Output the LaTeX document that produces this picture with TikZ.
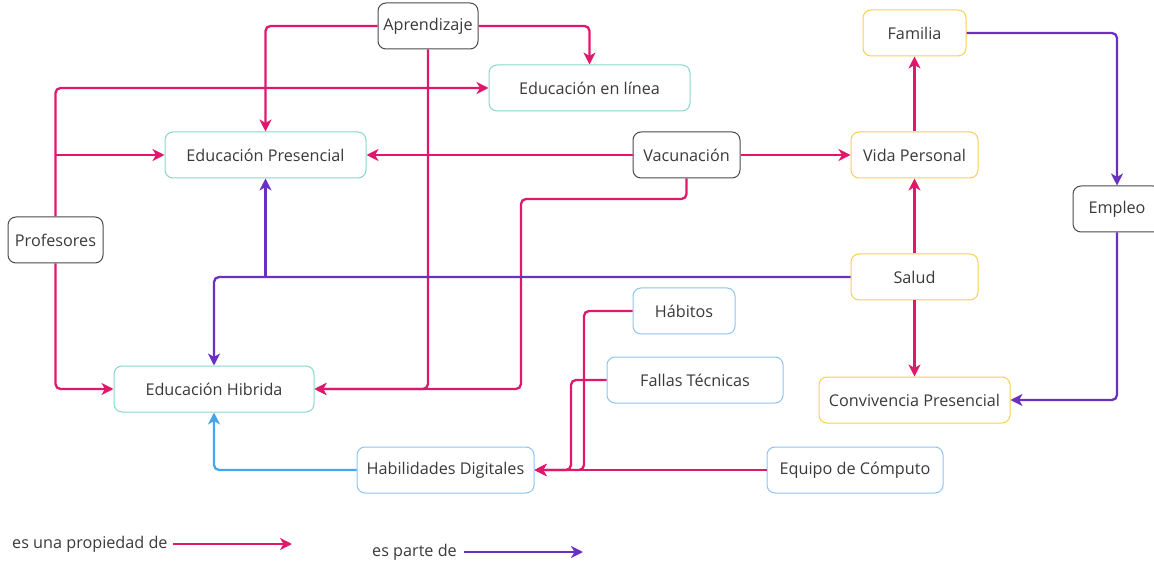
\documentclass[tikz,border=0pt]{standalone}
\usepackage{fontspec}
\setmainfont{Open Sans}
\usetikzlibrary{arrows.meta}
\definecolor{pk}{HTML}{E0186C}
\definecolor{pu}{HTML}{6A30C0}
\definecolor{bl}{HTML}{45A6EE}
\definecolor{tealb}{HTML}{86D8C6}
\definecolor{grayb}{HTML}{4A4A4A}
\definecolor{yelb}{HTML}{F8D04E}
\definecolor{blb}{HTML}{8CC4F2}
\definecolor{txt}{HTML}{3A3A3A}
\tikzset{
  box/.style={draw, rounded corners=8pt, line width=1pt, minimum height=46pt, inner sep=0pt, text=txt, font=\fontsize{16.2}{19}\selectfont, fill=white},
  tealbox/.style={box, draw=tealb},
  graybox/.style={box, draw=grayb},
  yelbox/.style={box, draw=yelb},
  blbox/.style={box, draw=blb},
  conn/.style={line width=2.3pt, rounded corners=5pt},
  tip/.style={-{Stealth[length=12pt,width=12pt,inset=3.5pt]}},
  pkline/.style={conn, draw=pk},
  puline/.style={conn, draw=pu},
  blline/.style={conn, draw=bl},
  pka/.style={pkline, tip},
  pua/.style={puline, tip},
  bla/.style={blline, tip},
  legend/.style={text=txt, font=\fontsize{16.2}{19}\selectfont, inner sep=0pt}
}
\begin{document}
\begin{tikzpicture}[x=1pt,y=-1pt]
\useasboundingbox (0,0) rectangle (1154,561);
\clip (0,0) rectangle (1154,561);
% nodes
\node[graybox, minimum width=100pt] (apr) at (428,26) {Aprendizaje};
\node[tealbox, minimum width=201pt] (edl) at (589.5,88) {Educación en línea};
\node[tealbox, minimum width=201pt] (edp) at (265.5,155) {Educación Presencial};
\node[graybox, minimum width=107pt] (vac) at (686.5,155) {Vacunación};
\node[yelbox, minimum width=103pt] (fam) at (914.5,33) {Familia};
\node[yelbox, minimum width=127pt] (vida) at (914.5,155) {Vida Personal};
\node[graybox, minimum width=88pt] (emp) at (1117,209) {Empleo};
\node[graybox, minimum width=95pt] (prof) at (55.5,240) {Profesores};
\node[yelbox, minimum width=127pt] (sal) at (914.5,277) {Salud};
\node[blbox, minimum width=102pt] (hab) at (684,311) {Hábitos};
\node[blbox, minimum width=176pt] (fal) at (695,380) {Fallas Técnicas};
\node[tealbox, minimum width=200pt] (edh) at (214,389) {Educación Hibrida};
\node[yelbox, minimum width=191pt] (conv) at (914.5,400) {Convivencia Presencial};
\node[blbox, minimum width=177pt] (hd) at (445.5,470) {Habilidades Digitales};
\node[blbox, minimum width=176pt] (eq) at (855,470) {Equipo de Cómputo};
% coordinates
\coordinate (v1) at (521,199);
\coordinate (h1) at (584,311);
\coordinate (f1) at (571,380);
% pink connectors
\draw[pka] (apr.west) -| (edp.north);
\draw[pka] (apr.east) -| (edl.north);
\draw[pka] (apr.south) |- (edh.east);
\draw[pka] (vac.south) |- (v1) |- (edh.east);
\draw[pka] (prof.north) |- (edl.west);
\draw[pka] (prof.north |- edp.west) -- (edp.west);
\draw[pka] (prof.south) |- (edh.west);
\draw[pka] (vac.west) -- (edp.east);
\draw[pka] (vac.east) -- (vida.west);
\draw[pka] (vida.north) -- (fam.south);
\draw[pka] (sal.north) -- (vida.south);
\draw[pka] (sal.south) -- (conv.north);
\draw[pka] (hab.west) -- (h1) |- (hd.east);
\draw[pka] (fal.west) -- (f1) |- (hd.east);
\draw[pka] (eq.west) -- (hd.east);
% purple connectors
\draw[pua] (sal.west) -| (edh.north);
\draw[pua] (edp.south |- sal.west) -- (edp.south);
\draw[pua] (fam.east) -| (emp.north);
\draw[pua] (emp.south) |- (conv.east);
% blue connector
\draw[bla] (hd.west) -| (edh.south);
% legend
\node[legend, anchor=west] (l1) at (12,544) {es una propiedad de};
\coordinate (l1e) at (292,544);
\draw[pka] ([xshift=5pt]l1.east) -- (l1e);
\node[legend, anchor=west] (l2) at (372,552) {es parte de};
\coordinate (l2e) at (583,552);
\draw[pua] ([xshift=7pt]l2.east) -- (l2e);
\end{tikzpicture}
\end{document}
